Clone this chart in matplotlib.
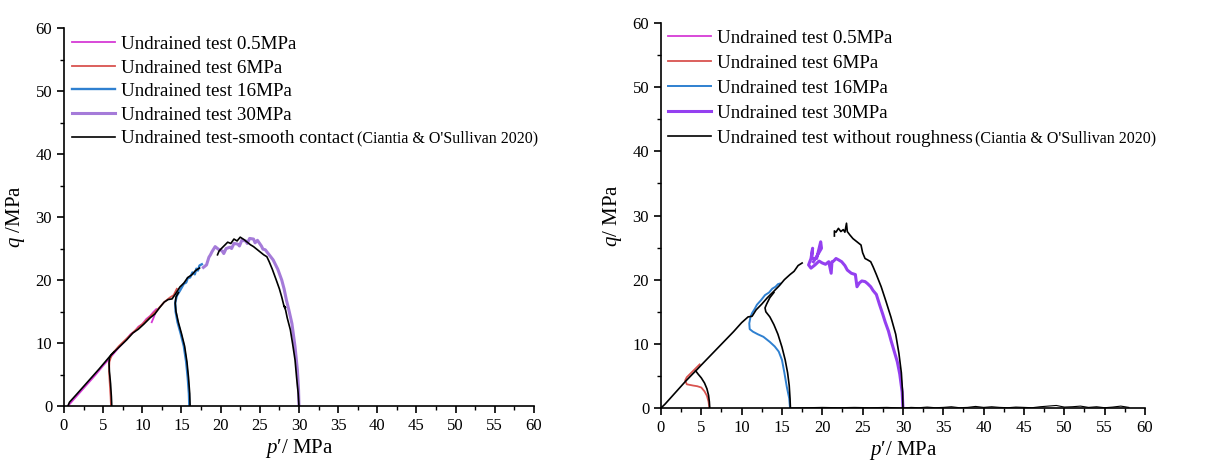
import matplotlib
matplotlib.use('Agg')
import matplotlib.pyplot as plt
from matplotlib.ticker import MultipleLocator

plt.rcParams['font.family'] = ['Liberation Serif', 'DejaVu Serif']
plt.rcParams['mathtext.fontset'] = 'custom'
plt.rcParams['mathtext.rm'] = 'Liberation Serif'
plt.rcParams['mathtext.it'] = 'Liberation Serif:italic'

# ---------------- left panel: smooth contact ----------------
l_mag_p = [0.5, 1, 2, 3, 4, 5, 6, 7, 8, 8.5, 9, 9.5, 10, 10.5, 11, 11.4, 11.8, 11.5, 11.2]
l_mag_q = [0, 0.7, 2.1, 3.5, 4.9, 6.4, 7.8, 9.3, 10.6, 11.4, 11.8, 12.6, 13.0, 13.8, 14.3, 14.9,
           15.4, 14.2, 13.3]

l_red_p = [6.0, 5.95, 5.85, 5.75, 5.8, 6.1, 7, 8, 9, 10, 11, 12, 12.8, 13.5, 14.0, 14.4]
l_red_q = [0, 1.5, 3.5, 5.5, 7, 8.2, 9.5, 10.7, 11.9, 13.0, 14.2, 15.4, 16.5, 17.2, 17.6, 18.6]

l_blue_p = [16.0, 15.95, 15.8, 15.6, 15.3, 14.9, 14.5, 14.25, 14.2, 14.4, 14.8, 15.3, 15.6, 15.8,
            16.1, 16.4, 16.7, 16.9, 17.1, 17.3, 17.6]
l_blue_q = [0, 2, 4.5, 7, 9.5, 11.5, 13.3, 15.0, 16.4, 17.5, 18.3, 19.4, 19.6, 20.3, 20.4, 21.2,
            20.9, 21.8, 21.5, 22.3, 22.5]

l_pur_p = [30.0, 29.95, 29.8, 29.5, 29.1, 28.7, 28.4, 28.1, 27.8, 27.3, 26.7, 26.2, 25.7, 25.4,
           25.2, 24.7, 24.4, 24.2, 23.7, 23.4, 23.2, 22.7, 22.4, 22.2, 21.7, 21.4, 21.2, 20.7,
           20.4, 20.2, 19.7, 19.3, 18.9, 18.7, 18.5, 18.2, 17.8]
l_pur_q = [0, 2.5, 5.7, 9.4, 13.1, 15.3, 16.8, 18.6, 20.0, 21.7, 23.2, 24.0, 24.8, 24.9, 25.4,
           26.3, 25.9, 26.5, 26.6, 25.8, 26.2, 26.3, 25.4, 25.7, 25.8, 25.0, 25.2, 25.0, 24.2,
           24.6, 24.9, 25.3, 24.5, 24.0, 23.6, 22.4, 22.0]

l_blk_line_p = [0.5, 0.7, 1.5, 3, 4.5, 6, 7, 8, 8.8, 9.5, 10.2, 11, 11.6, 12.2, 12.8, 13.3, 13.8,
                14.3, 14.8, 15.3, 15.8, 16.3, 16.8, 17.3]
l_blk_line_q = [0, 0.6, 1.7, 3.8, 5.9, 8.1, 9.3, 10.5, 11.6, 12.2, 13.0, 14.0, 14.6, 15.6, 16.5,
                16.9, 17.0, 17.9, 18.9, 19.5, 20.4, 20.8, 21.5, 21.9]
l_blk6_p = [6.1, 6.05, 5.95, 5.8, 5.75, 5.8, 6.0, 6.4]
l_blk6_q = [0, 1.5, 3.5, 5.5, 6.8, 7.6, 8.1, 8.6]
l_blk16_p = [16.1, 16.05, 15.9, 15.7, 15.4, 15.0, 14.6, 14.3, 14.2, 14.3, 14.6]
l_blk16_q = [0, 2, 4.5, 7, 9.5, 11.5, 13.3, 15.0, 16.3, 17.3, 18.0]
l_blk30_p = [30.0, 29.9, 29.7, 29.5, 29.2, 28.9, 28.5, 28.3, 28.1, 28.3, 28.1, 27.8, 27.5, 27.1,
             26.6, 26.2, 25.9, 25.5, 25.0, 24.6, 24.2, 23.8, 23.4, 23.0, 22.5, 22.1, 21.7, 21.3,
             20.9, 20.5, 20.1, 19.8, 19.6]
l_blk30_q = [0, 2.0, 4.5, 7.3, 9.8, 12.1, 14.0, 15.2, 15.9, 15.6, 15.8, 17.3, 18.6, 20.0, 21.7,
             22.9, 23.7, 24.0, 24.5, 24.9, 25.3, 25.6, 26.0, 26.4, 26.8, 26.2, 26.5, 25.8, 26.0,
             25.5, 25.0, 24.6, 24.0]

# ---------------- right panel: without roughness ----------------
r_red_p = [6.0, 5.9, 5.7, 5.4, 5.0, 4.5, 4.0, 3.6, 3.2, 3.0, 3.2, 3.6, 4.0, 4.4, 4.8]
r_red_q = [0, 1.0, 1.9, 2.6, 3.2, 3.4, 3.5, 3.6, 3.7, 4.3, 4.8, 5.3, 5.8, 6.3, 6.8]

r_blue_p = [16.0, 15.9, 15.6, 15.3, 15.0, 14.6, 14.1, 13.5, 12.7, 12.0, 11.4, 11.0, 10.95, 11.1,
            11.3, 11.6, 11.9, 12.4, 12.9, 13.4, 13.8, 14.2, 14.5, 14.75]
r_blue_q = [0, 1.5, 3.3, 5.5, 7.5, 8.8, 9.6, 10.3, 11.1, 11.5, 11.9, 12.3, 13.2, 14.2, 14.8, 15.4,
            16.1, 16.8, 17.6, 18.0, 18.6, 18.9, 19.3, 19.4]

r_pur_p = [30.0, 29.9, 29.6, 29.3, 28.9, 28.5, 28.2, 27.8, 27.5, 27.1, 26.7, 26.3, 26.0, 25.6,
           25.3, 24.9, 24.6, 24.3, 24.1, 23.6, 23.1, 22.8, 22.4, 22.0, 21.7, 21.4, 21.2, 21.1,
           20.8, 20.4, 20.0, 19.6, 19.1, 18.6, 18.3, 18.6, 18.8, 18.7, 19.3, 19.8, 19.9, 19.3, 18.9]
r_pur_q = [0, 2.5, 5.3, 7.2, 8.9, 10.6, 12.0, 13.4, 14.6, 16.1, 17.7, 18.3, 18.9, 19.4, 19.7,
           19.8, 19.5, 18.9, 20.8, 21.0, 21.5, 22.2, 22.8, 23.1, 23.3, 22.9, 22.8, 21.0, 22.8,
           22.4, 22.6, 22.9, 22.3, 21.8, 22.3, 23.3, 24.9, 23.3, 23.3, 25.9, 24.9, 23.6, 22.8]

r_blk_line_p = [0, 0.5, 1, 2, 3, 4, 4.4, 5, 6, 7, 8, 9, 10, 10.8, 11.3, 11.8, 12.5, 13.2, 14,
                14.7, 15.3, 16, 16.5, 17, 17.5]
r_blk_line_q = [0, 0.6, 1.3, 2.7, 4.1, 5.4, 5.9, 6.7, 8.0, 9.3, 10.6, 11.9, 13.3, 14.2, 14.3,
                15.3, 16.2, 17.2, 18.2, 19.1, 20.0, 20.8, 21.3, 22.2, 22.6]
r_blk6_p = [6.05, 6.0, 5.9, 5.7, 5.4, 5.0, 4.6, 4.3]
r_blk6_q = [0, 1.0, 2.0, 3.0, 3.9, 4.7, 5.3, 5.8]
r_blk16_p = [16.05, 16.0, 15.9, 15.7, 15.4, 15.0, 14.5, 14.0, 13.5, 13.0, 12.9, 13.1, 13.5, 14.0]
r_blk16_q = [0, 1.5, 3.5, 5.5, 7.5, 9.5, 11.5, 13.0, 14.2, 15.0, 15.6, 16.2, 17.2, 18.0]
r_blk30_p = [30.0, 29.95, 29.8, 29.5, 29.1, 28.5, 27.9, 27.3, 26.7, 26.3, 26.0, 25.6, 25.3, 25.0,
             24.8, 24.3, 23.8, 23.4, 23.1, 23.0, 22.8, 22.6, 22.3, 22.0, 21.7, 21.5, 21.5]
r_blk30_q = [0, 2.5, 5.5, 8.5, 11.5, 14.2, 16.6, 18.9, 20.8, 22.0, 22.8, 23.1, 23.3, 24.2, 25.4,
             25.9, 26.4, 27.0, 27.5, 28.8, 27.4, 27.8, 27.5, 28.0, 27.4, 27.6, 26.8]
r_base_p = [16, 18, 20, 22, 24, 26, 28, 30, 31, 32, 33, 34, 35, 36, 37, 38, 39, 40, 41, 42, 43,
            44, 45, 46, 47, 48, 49, 50, 51, 52, 53, 54, 55, 56, 57, 58]
r_base_q = [0, 0.05, 0.1, 0.05, 0.1, 0.05, 0.1, 0, 0.1, 0.05, 0.15, 0.05, 0.1, 0.2, 0.05, 0.1,
            0.25, 0.1, 0.2, 0.1, 0.05, 0.15, 0.1, 0.05, 0.2, 0.3, 0.4, 0.15, 0.2, 0.3, 0.1, 0.2,
            0.05, 0.15, 0.3, 0.1]

labels = ['Undrained test 0.5MPa', 'Undrained test 6MPa', 'Undrained test 16MPa',
          'Undrained test 30MPa']
cite = "(Ciantia & O'Sullivan 2020)"

c_mag = '#d63ad6'
c_red = '#d9534f'
c_blue = '#2f80d0'
c_pur_l = '#a57bd9'
c_pur_r = '#9440f0'

fig = plt.figure(figsize=(12.05, 4.69), dpi=100)
ax1 = fig.add_axes([0.0531, 0.1343, 0.390, 0.806])
ax2 = fig.add_axes([0.5485, 0.130, 0.4017, 0.821])

# left
ax1.plot(l_mag_p, l_mag_q, color=c_mag, lw=1.3, label=labels[0])
ax1.plot(l_red_p, l_red_q, color=c_red, lw=1.3, label=labels[1])
ax1.plot(l_blue_p, l_blue_q, color=c_blue, lw=1.7, label=labels[2])
ax1.plot(l_pur_p, l_pur_q, color=c_pur_l, lw=2.2, label=labels[3])
ax1.plot(l_blk_line_p, l_blk_line_q, color='black', lw=1.2, label='Undrained test-smooth contact')
ax1.plot(l_blk6_p, l_blk6_q, color='black', lw=1.2)
ax1.plot(l_blk16_p, l_blk16_q, color='black', lw=1.2)
ax1.plot(l_blk30_p, l_blk30_q, color='black', lw=1.2)

# right
ax2.plot([], [], color=c_mag, lw=1.3, label=labels[0])
ax2.plot(r_red_p, r_red_q, color=c_red, lw=1.3, label=labels[1])
ax2.plot(r_blue_p, r_blue_q, color=c_blue, lw=1.4, label=labels[2])
ax2.plot(r_pur_p, r_pur_q, color=c_pur_r, lw=2.2, label=labels[3])
ax2.plot(r_blk_line_p, r_blk_line_q, color='black', lw=1.2,
         label='Undrained test without roughness')
ax2.plot(r_blk6_p, r_blk6_q, color='black', lw=1.2)
ax2.plot(r_blk16_p, r_blk16_q, color='black', lw=1.2)
ax2.plot(r_blk30_p, r_blk30_q, color='black', lw=1.2)
ax2.plot(r_base_p, r_base_q, color='black', lw=0.8)

legs = []
for ax, ylab, bpad, lsp in [(ax1, '$q$ /MPa', 0.4, 0.33), (ax2, '$q$/ MPa', 0.35, 0.4)]:
    ax.set_xlim(0, 60)
    ax.set_ylim(0, 60)
    ax.xaxis.set_major_locator(MultipleLocator(5))
    ax.xaxis.set_minor_locator(MultipleLocator(2.5))
    ax.yaxis.set_major_locator(MultipleLocator(10))
    ax.yaxis.set_minor_locator(MultipleLocator(5))
    ax.spines['top'].set_visible(False)
    ax.spines['right'].set_visible(False)
    for s in ['left', 'bottom']:
        ax.spines[s].set_linewidth(1.2)
    ax.tick_params(which='major', direction='out', length=5, width=1.2, labelsize=12)
    ax.tick_params(which='minor', direction='out', length=3, width=1.0)
    ax.set_xlabel("$p$\u2032/ MPa", fontsize=15, labelpad=2)
    ax.set_ylabel(ylab, fontsize=15, labelpad=6)
    leg = ax.legend(loc='upper left', bbox_to_anchor=(0.0, 1.0), frameon=False, fontsize=13.7,
                    handlelength=2.3, handletextpad=0.3, labelspacing=lsp, borderaxespad=0.0,
                    borderpad=bpad)
    legs.append(leg)

# citation in a smaller font after the last legend entry
fig.canvas.draw()
W, H = fig.get_size_inches() * fig.dpi
for leg, gap in [(legs[0], 3), (legs[1], 2)]:
    bb = leg.get_texts()[-1].get_window_extent()
    fig.text((bb.x1 + gap) / W, (bb.y0 + bb.y1) / 2 / H, cite, fontsize=11.5,
             ha='left', va='center')

fig.savefig('out.png', dpi=100)
